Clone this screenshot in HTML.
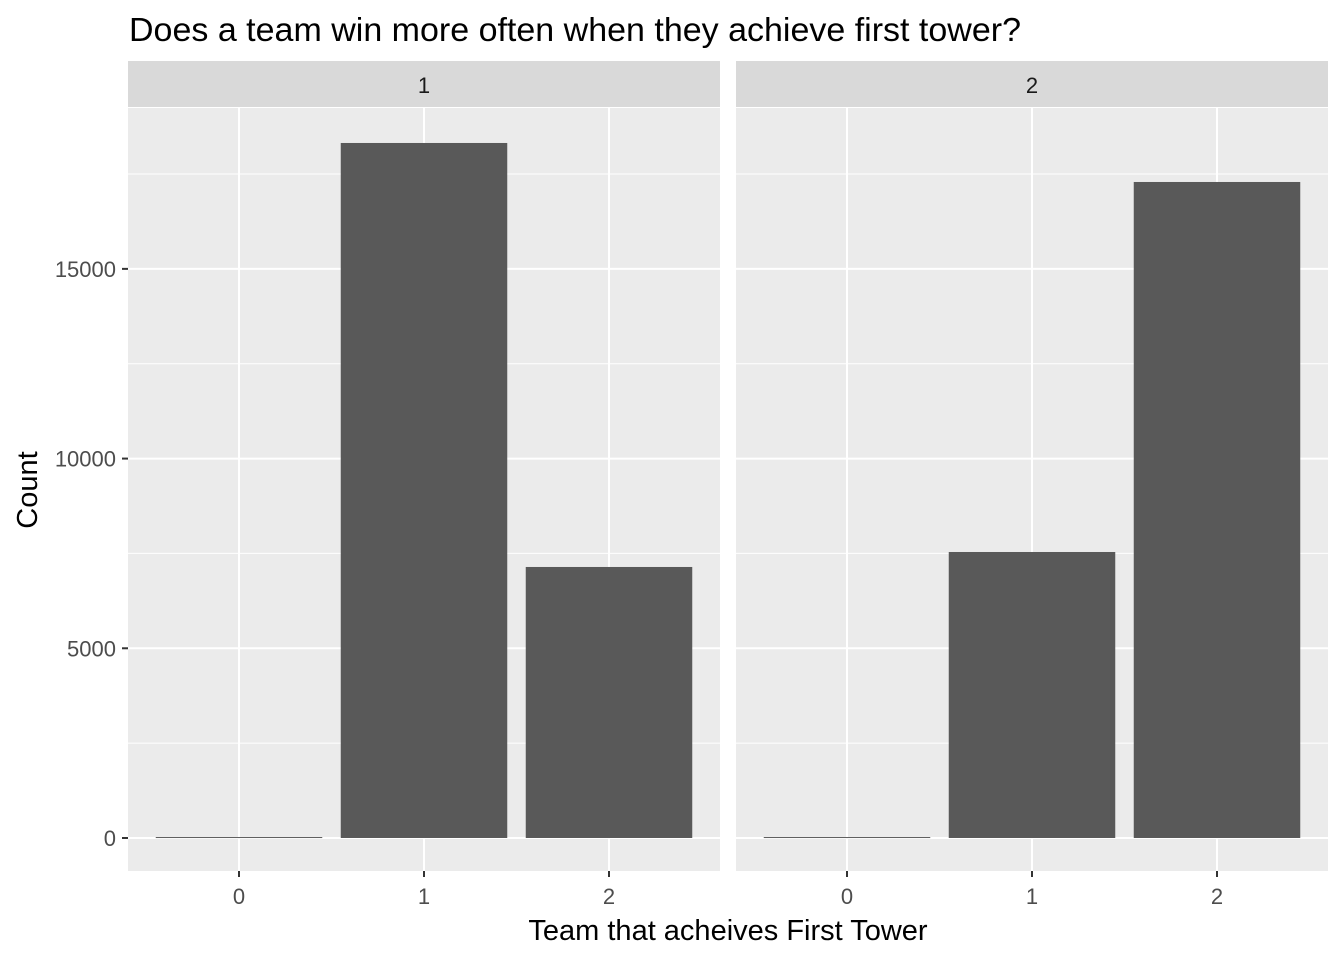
<!DOCTYPE html>
<html><head><meta charset="utf-8"><style>
body{margin:0;background:#fff;font-family:"Liberation Sans",Arial,sans-serif}
</style></head><body>
<svg id="chart" width="1344" height="960" xmlns="http://www.w3.org/2000/svg">
<text x="129" y="41" font-size="33" textLength="892" lengthAdjust="spacingAndGlyphs" fill="#000">Does a team win more often when they achieve first tower?</text>
<text x="728" y="940" font-size="29" text-anchor="middle" fill="#000">Team that acheives First Tower</text>
<text transform="translate(37,490) rotate(-90)" font-size="29" text-anchor="middle" fill="#000">Count</text>
<g id="panels"></g>
</svg>
<script>
const facets = ["1","2"];
const categories = [0,1,2];
const panel1Values = [25,18318,7143];
const panel2Values = [25,7538,17290];
const yTicks = [0,5000,10000,15000];
const yTickLabels = ["0","5000","10000","15000"];
const seriesByFacet = [panel1Values, panel2Values];

const NS="http://www.w3.org/2000/svg";
const g=document.getElementById('panels');
const pTop=108,pBottom=871,yMin=-870,yMax=19240;
function y(v){return pBottom-(v-yMin)/(yMax-yMin)*(pBottom-pTop);}
const panelLefts=[128,736],pw=592;
function mk(t,a,p){const e=document.createElementNS(NS,t);for(const k in a)e.setAttribute(k,a[k]);(p||g).appendChild(e);return e;}
facets.forEach((f,i)=>{
  const L=panelLefts[i];
  function x(c){return L+(c+0.6)/3.2*pw;}
  const bg=mk('rect',{x:L,y:pTop,width:pw,height:pBottom-pTop,fill:'#ebebeb'});
  
  
  const st=mk('rect',{x:L,y:61,width:pw,height:46,fill:'#d9d9d9'});
  
  
  const stt=mk('text',{x:L+pw/2,y:93,'font-size':22,'text-anchor':'middle',fill:'#1a1a1a'});
  stt.textContent=f;
  
  
  for(let k=0;k<yTicks.length;k++){
    const mv=yTicks[k]+2500;
    if(y(mv)>pTop) mk('line',{x1:L,x2:L+pw,y1:y(mv),y2:y(mv),stroke:'#fff','stroke-width':1});
  }
  yTicks.forEach(v=>mk('line',{x1:L,x2:L+pw,y1:y(v),y2:y(v),stroke:'#fff','stroke-width':2}));
  categories.forEach(c=>mk('line',{x1:x(c),x2:x(c),y1:pTop,y2:pBottom,stroke:'#fff','stroke-width':2}));
  seriesByFacet[i].forEach((v,j)=>{
    const c=categories[j];
    const b=mk('rect',{x:x(c-0.45),width:x(c+0.45)-x(c-0.45),y:y(v),height:Math.max(1,y(0)-y(v)),fill:'#595959'});
    
    
    mk('line',{x1:x(c),x2:x(c),y1:pBottom,y2:pBottom+6,stroke:'#333','stroke-width':2});
    const t=mk('text',{x:x(c),y:904,'font-size':22,'text-anchor':'middle',fill:'#4d4d4d'});
    t.textContent=String(c);
    
    
  });
});
yTicks.forEach((v,k)=>{
  mk('line',{x1:122,x2:128,y1:y(v),y2:y(v),stroke:'#333','stroke-width':2});
  const t=mk('text',{x:116,y:y(v)+8,'font-size':22,'text-anchor':'end',fill:'#4d4d4d'});
  t.textContent=yTickLabels[k];
  
  
});
</script>
</body></html>
